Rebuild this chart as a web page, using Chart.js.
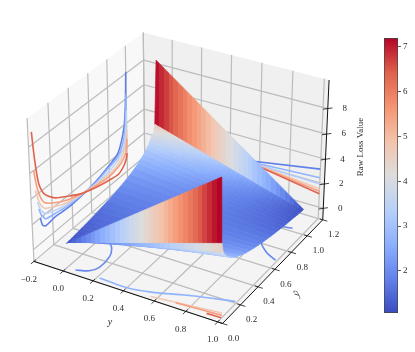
<!DOCTYPE html>
<html>
<head>
<meta charset="utf-8">
<script src="https://cdn.jsdelivr.net/npm/chart.js"></script>
<style>
  html, body { margin: 0; padding: 0; background: #fff; }
  #plot { position: absolute; left: 0; top: 0; }
  #colorbar { position: absolute; left: 380px; top: 0; }
</style>
</head>
<body>
<canvas id="plot" width="415" height="352"></canvas>
<canvas id="colorbar" width="35" height="352"></canvas>
<script>
// --- values ---
const yTicks = [-0.2, 0, 0.2, 0.4, 0.6, 0.8, 1];
const yTickLabels = ["\u22120.2", "0.0", "0.2", "0.4", "0.6", "0.8", "1.0"];
const yHatTicks = [0, 0.2, 0.4, 0.6, 0.8, 1, 1.2];
const yHatTickLabels = ["0.0", "0.2", "0.4", "0.6", "0.8", "1.0", "1.2"];
const zTicks = [0, 2, 4, 6, 8];
const zTickLabels = ["0", "2", "4", "6", "8"];
const colorbarTicks = [2, 3, 4, 5, 6, 7];
const colorMin = 1.06;
const colorMax = 7.2;

const yLimits = [-0.2, 1.03];
const yHatLimits = [0, 1.2];
const zLimits = [-0.95, 10.2];

// surface: one strip between each neighbouring pair of yHat values
const surfaceYRange = [0.01, 1];
const surfaceYhat = [0.025, 0.035, 0.05, 0.065, 0.08, 0.1, 0.12, 0.15, 0.18, 0.215, 0.25, 0.3, 0.35, 0.4, 0.45, 0.5, 0.55, 0.6, 0.65, 0.7, 0.75, 0.785, 0.82, 0.85, 0.88, 0.9, 0.92, 0.935, 0.95, 0.96, 0.97, 0.975, 0.98, 0.9999];
const lossAtY0 = [1.13, 1.14, 1.15, 1.17, 1.18, 1.21, 1.23, 1.26, 1.3, 1.34, 1.39, 1.46, 1.53, 1.61, 1.7, 1.79, 1.9, 2.02, 2.15, 2.3, 2.49, 2.64, 2.81, 3, 3.22, 3.4, 3.63, 3.83, 4, 4.1, 4.3, 4.5, 4.7, 9.7];
const lossAtY1 = [9.8, 4.9, 4.1, 3.83, 3.63, 3.4, 3.22, 3, 2.81, 2.64, 2.49, 2.3, 2.15, 2.02, 1.9, 1.79, 1.7, 1.61, 1.53, 1.46, 1.39, 1.34, 1.3, 1.26, 1.23, 1.21, 1.18, 1.17, 1.15, 1.14, 1.13, 1.125, 1.12, 1.1];

// curves on the left wall (yHat, loss)
const wallCurveYhat = [
  [0.08, 0.1, 0.13, 0.18, 0.23, 0.35, 0.5, 0.65, 0.8, 0.9, 0.97, 0.99, 1],
  [0.07, 0.09, 0.11, 0.13, 0.23, 0.35, 0.5, 0.65, 0.8, 0.9, 0.97, 0.99, 1],
  [0.06, 0.08, 0.1, 0.13, 0.23, 0.35, 0.5, 0.65, 0.8, 0.9, 0.97, 0.99, 1],
  [0.045, 0.07, 0.09, 0.13, 0.23, 0.35, 0.5, 0.65, 0.8, 0.9, 0.96, 0.99, 1],
  [0.038, 0.06, 0.09, 0.13, 0.23, 0.35, 0.5, 0.65, 0.8, 0.9, 0.96, 0.99, 1],
  [0.033, 0.05, 0.08, 0.13, 0.23, 0.37, 0.5, 0.65, 0.8, 0.9, 0.96, 0.99, 1]
];
const wallCurveLoss = [
  [2.0, 1.3, 1.05, 1.1, 1.15, 1.03, 1.1, 1.29, 1.69, 2.13, 3.8, 5.6, 8.15],
  [2.8, 2.2, 1.9, 1.6, 1.4, 1.2, 1.15, 1.2, 1.55, 1.85, 3.0, 4.6, 6.4],
  [3.4, 2.8, 2.4, 2.05, 1.65, 1.35, 1.2, 1.1, 1.25, 1.55, 2.4, 3.6, 5.0],
  [4.4, 3.5, 3.0, 2.45, 1.95, 1.5, 1.22, 1.02, 1.0, 1.2, 1.75, 2.5, 3.4],
  [6.0, 4.6, 3.6, 2.9, 2.25, 1.7, 1.25, 0.95, 0.8, 0.95, 1.3, 1.8, 2.7],
  [8.97, 6.88, 4.71, 3.57, 2.64, 1.89, 1.26, 0.81, 0.49, 0.35, 0.67, 1.1, 1.5]
];
const wallCurveLevels = [0.12, 0.26, 0.4, 0.6, 0.72, 0.87];

// lines on the back wall (y, loss)
const backLineY = [0.4, 1];
const backLineLoss = [
  [1.9, 3.1],
  [2.0, 2.4],
  [2.1, 1.9],
  [2.2, 1.5],
  [2.25, 1.3],
  [2.3, 1.1]
];
const backLineLevels = [0.12, 0.26, 0.36, 0.6, 0.72, 0.87];

// contours on the floor (y, yHat)
const floorCurveY = [
  [0.007, 0.059, 0.112, 0.148, 0.157, 0.126, 0.054],
  [0.217, 0.39, 0.54, 0.753, 0.99],
  [0.77, 0.825, 0.905, 0.99],
  [0.8, 0.855, 0.918],
  [0.56, 0.98],
  [0.71, 0.99],
  [0.908, 0.997]
];
const floorCurveYhat = [
  [0.431, 0.387, 0.331, 0.252, 0.131, 0.074, 0.043],
  [0.042, 0.035, 0.065, 0.145, 0.215],
  [0.888, 0.81, 0.731, 0.684],
  [1.02, 1.016, 1.03],
  [0.028, 0.083],
  [0.043, 0.064],
  [0.039, 0.043]
];
const floorCurveLevels = [0.14, 0.26, 0.14, 0.14, 0.6, 0.72, 0.87];

// --- styles ---
const coolwarm = [
  [59, 76, 192], [98, 130, 234], [141, 176, 254], [184, 208, 249], [221, 221, 221],
  [244, 195, 171], [245, 148, 114], [222, 97, 77], [180, 4, 38]
];
const fontFamily = "'Liberation Serif', serif";
const textColor = "#2b2b2b";
const gridColor = "#bcbcbc";

function cmapAt(t) {
  const pos = Math.min(Math.max(t, 0), 1) * (coolwarm.length - 1);
  const i = Math.min(Math.floor(pos), coolwarm.length - 2);
  const f = pos - i;
  const c = coolwarm[i].map((v, k) => Math.round(v + (coolwarm[i + 1][k] - v) * f));
  return `rgb(${c[0]},${c[1]},${c[2]})`;
}

function lossColor(v) {
  return cmapAt((v - colorMin) / (colorMax - colorMin));
}

// --- same view as a default 3D axes: elev 30, azim -60 ---
const box = [1.1905, 1.1905, 0.8929];
const dist = 10;
const u = [0.866, 0.5, 0];
const v = [-0.25, 0.433, 0.866];
const w = [0.433, -0.75, 0.5];
const zoomX = 1815, zoomY = 1830, centerX = 181, centerY = 171;

function project(y, yHat, z) {
  const p = [
    ((y - yLimits[0]) / (yLimits[1] - yLimits[0]) - 0.5) * box[0],
    ((yHat - yHatLimits[0]) / (yHatLimits[1] - yHatLimits[0]) - 0.5) * box[1],
    ((z - zLimits[0]) / (zLimits[1] - zLimits[0]) - 0.5) * box[2]
  ];
  const dot = a => a[0] * p[0] + a[1] * p[1] + a[2] * p[2];
  const depth = dist - dot(w);
  return { x: centerX + zoomX * dot(u) / depth, y: centerY - zoomY * dot(v) / depth };
}

// --- datasets, back to front ---
const [yLo, yHi] = yLimits;
const [hLo, hHi] = yHatLimits;
const [zLo, zHi] = zLimits;
const datasets = [];

function addLine(points, color, width, tension) {
  datasets.push({
    data: points, showLine: true, borderColor: color, borderWidth: width,
    pointRadius: 0, fill: false, tension: tension || 0
  });
}

function addShape(points, color, edge) {
  datasets.push({
    data: points, showLine: true, borderColor: edge || color, borderWidth: edge ? 0.7 : 0,
    backgroundColor: color, pointRadius: 0, fill: "shape"
  });
}

addShape([project(yLo, hLo, zLo), project(yLo, hHi, zLo), project(yLo, hHi, zHi), project(yLo, hLo, zHi), project(yLo, hLo, zLo)], "#f8f8f8");
addShape([project(yLo, hHi, zLo), project(yHi, hHi, zLo), project(yHi, hHi, zHi), project(yLo, hHi, zHi), project(yLo, hHi, zLo)], "#f0f0f0");
addShape([project(yLo, hLo, zLo), project(yHi, hLo, zLo), project(yHi, hHi, zLo), project(yLo, hHi, zLo), project(yLo, hLo, zLo)], "#f4f4f4");

yTicks.forEach(t => addLine([project(t, hLo, zLo), project(t, hHi, zLo), project(t, hHi, zHi)], gridColor, 1.2));
yHatTicks.forEach(t => addLine([project(yHi, t, zLo), project(yLo, t, zLo), project(yLo, t, zHi)], gridColor, 1.2));
zTicks.forEach(t => addLine([project(yLo, hLo, t), project(yLo, hHi, t), project(yHi, hHi, t)], gridColor, 1.2));

wallCurveLoss.forEach((row, i) => {
  addLine(row.map((z, k) => project(yLo, wallCurveYhat[i][k], z)), cmapAt(wallCurveLevels[i]), 1.6, 0.25);
});
backLineLoss.forEach((row, i) => {
  addLine(row.map((z, k) => project(backLineY[k], hHi, z)), cmapAt(backLineLevels[i]), 1.6);
});
floorCurveY.forEach((row, i) => {
  addLine(row.map((y, k) => project(y, floorCurveYhat[i][k], zLo)), cmapAt(floorCurveLevels[i]), 1.6, 0.3);
});

const paintCtx = document.getElementById("plot").getContext("2d");

// strips run from the far side (yHat near 1) to the near side, so nearer ones cover farther ones
const [yStart, yEnd] = surfaceYRange;
for (let i = surfaceYhat.length - 2; i >= 0; i--) {
  const a0 = project(yStart, surfaceYhat[i], lossAtY0[i]);
  const b0 = project(yStart, surfaceYhat[i + 1], lossAtY0[i + 1]);
  const a1 = project(yEnd, surfaceYhat[i], lossAtY1[i]);
  const b1 = project(yEnd, surfaceYhat[i + 1], lossAtY1[i + 1]);
  const from = (lossAtY0[i] + lossAtY0[i + 1]) / 2;
  const to = (lossAtY1[i] + lossAtY1[i + 1]) / 2;
  const grad = paintCtx.createLinearGradient(Math.min(a0.x, b0.x), 0, Math.max(a1.x, b1.x), 0);
  const bands = 32;
  for (let k = 0; k < bands; k++) {
    const c = lossColor(from + (to - from) * (k + 0.5) / bands);
    grad.addColorStop(k / bands, c);
    grad.addColorStop((k + 1) / bands, c);
  }
  addShape([a0, b0, b1, a1, a0], grad, grad);
}

// axis lines and tick marks
addLine([project(yLo, hLo, zLo), project(yHi, hLo, zLo)], "#111", 1);
addLine([project(yHi, hLo, zLo), project(yHi, hHi, zLo)], "#111", 1);
addLine([project(yHi, hHi, zLo), project(yHi, hHi, zHi)], "#111", 1);
yTicks.forEach(t => addLine([project(t, hLo - 0.03, zLo), project(t, hLo + 0.02, zLo)], "#111", 0.8));
yHatTicks.forEach(t => addLine([project(yHi + 0.03, t, zLo), project(yHi - 0.02, t, zLo)], "#111", 0.8));
zTicks.forEach(t => addLine([project(yHi - 0.02, hHi - 0.02, t), project(yHi + 0.02, hHi + 0.02, t)], "#111", 0.8));

datasets.forEach((d, i) => { d.order = datasets.length - i; });

// --- text ---
const textPlugin = {
  id: "axisText",
  afterDraw(chart) {
    const { ctx, scales } = chart;
    const at = (p, dx, dy, label) => ctx.fillText(label, scales.x.getPixelForValue(p.x) + dx, scales.y.getPixelForValue(p.y) + dy);
    ctx.save();
    ctx.fillStyle = textColor;
    ctx.textAlign = "center";
    ctx.textBaseline = "middle";
    ctx.font = `9px ${fontFamily}`;
    yTicks.forEach((t, i) => at(project(t, hLo, zLo), -5, 18, yTickLabels[i]));
    yHatTicks.forEach((t, i) => at(project(yHi, t, zLo), 11, 15, yHatTickLabels[i]));
    zTicks.forEach((t, i) => at(project(yHi, hHi, t), 17, 0, zTickLabels[i]));
    ctx.font = `italic 10px ${fontFamily}`;
    ctx.fillText("y", 110, 322);
    ctx.save();
    ctx.translate(297, 294);
    ctx.rotate(-Math.PI / 3);
    ctx.fillText("\u0177", 0, 0);
    ctx.restore();
    ctx.font = `9px ${fontFamily}`;
    ctx.save();
    ctx.translate(361, 147);
    ctx.rotate(-Math.PI / 2);
    ctx.fillText("Raw Loss Value", 0, 0);
    ctx.restore();
    ctx.restore();
  }
};

new Chart(paintCtx, {
  type: "scatter",
  data: { datasets },
  options: {
    responsive: false,
    animation: false,
    layout: { padding: 0 },
    elements: { line: { borderJoinStyle: "round" } },
    plugins: { legend: { display: false }, tooltip: { enabled: false }, title: { display: false } },
    scales: {
      x: { type: "linear", min: 0, max: 415, display: false },
      y: { type: "linear", min: 0, max: 352, reverse: true, display: false }
    }
  },
  plugins: [textPlugin]
});

// --- colour bar, a floating bar on its own value axis ---
new Chart(document.getElementById("colorbar"), {
  type: "bar",
  data: {
    labels: [""],
    datasets: [{
      data: [[colorMin, colorMax]],
      barPercentage: 1,
      categoryPercentage: 1,
      borderColor: "#444",
      borderWidth: 1,
      borderSkipped: false,
      backgroundColor(context) {
        const area = context.chart.chartArea;
        if (!area) return "#ddd";
        const grad = context.chart.ctx.createLinearGradient(0, area.bottom, 0, area.top);
        coolwarm.forEach((c, i) => grad.addColorStop(i / (coolwarm.length - 1), `rgb(${c[0]},${c[1]},${c[2]})`));
        return grad;
      }
    }]
  },
  options: {
    responsive: false,
    animation: false,
    layout: { padding: { left: 4, top: 38, bottom: 39, right: 0 } },
    plugins: { legend: { display: false }, tooltip: { enabled: false } },
    scales: {
      x: { display: false },
      y: {
        position: "right",
        min: colorMin,
        max: colorMax,
        afterBuildTicks(scale) { scale.ticks = colorbarTicks.map(value => ({ value })); },
        afterFit(scale) { scale.width = 17; },
        border: { display: false },
        grid: { drawOnChartArea: false, tickLength: 3, color: "#333", tickWidth: 0.8 },
        ticks: { color: textColor, padding: 2, font: { family: "'Liberation Serif', serif", size: 9 } }
      }
    }
  }
});
</script>
</body>
</html>
